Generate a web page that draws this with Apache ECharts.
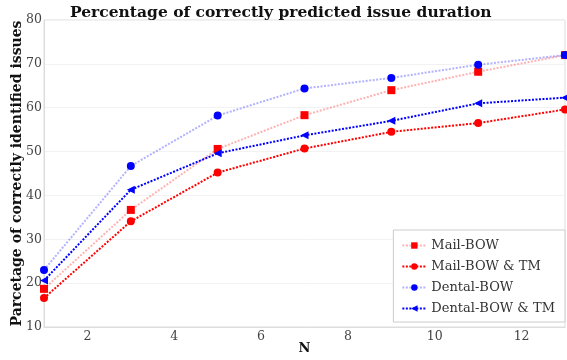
<!DOCTYPE html>
<html>
<head>
<meta charset="utf-8">
<script src="https://cdn.jsdelivr.net/npm/echarts@6/dist/echarts.min.js"></script>
<style>
  html, body { margin: 0; padding: 0; background: #fff; }
  #chart { width: 567px; height: 360px; }
</style>
</head>
<body>
<div id="chart"></div>
<script>
// Number of predictions considered (N)
const nValues = [1, 3, 5, 7, 9, 11, 13];

// Percentage of correctly identified issues per approach
const mailBow = [18.7, 36.7, 50.6, 58.3, 64.0, 68.2, 72.0];
const mailBowTm = [16.6, 34.1, 45.2, 50.7, 54.5, 56.5, 59.6];
const dentalBow = [23.0, 46.7, 58.2, 64.4, 66.8, 69.8, 72.0];
const dentalBowTm = [20.6, 41.3, 49.6, 53.7, 57.0, 61.0, 62.3];

const yTicks = [10, 20, 30, 40, 50, 60, 70, 80];
const xTicks = [2, 4, 6, 8, 10, 12];

const serif = '"DejaVu Serif", "Liberation Serif", serif';

function pairs(ys) {
  return nValues.map((x, i) => [x, ys[i]]);
}

function makeSeries(name, values, lineColor, markColor, symbol) {
  return {
    name: name,
    type: 'line',
    data: pairs(values),
    symbol: symbol,
    symbolSize: 8,
    symbolRotate: symbol === 'triangle' ? 90 : 0,
    showAllSymbol: true,
    clip: true,
    lineStyle: { color: lineColor, width: 2, type: [2, 1.5] },
    itemStyle: { color: markColor },
    emphasis: { disabled: true },
    animation: false
  };
}

const chart = echarts.init(document.getElementById('chart'), null, { renderer: 'canvas' });
chart.setOption({
  backgroundColor: '#fff',
  title: {
    text: 'Percentage of correctly predicted issue duration',
    left: 70,
    top: 5,
    padding: 0,
    textStyle: { fontFamily: serif, fontWeight: 'bold', fontSize: 15.5, color: '#111' }
  },
  grid: {
    left: 44, right: 2, top: 20, bottom: 33,
    outerBoundsMode: 'none',
    containLabel: false,
    show: true, borderColor: '#ddd', borderWidth: 1
  },
  legend: {
    orient: 'vertical',
    right: 2,
    bottom: 38,
    backgroundColor: '#fff',
    borderColor: '#ccc',
    borderWidth: 1,
    borderRadius: 0,
    padding: [8, 10, 6, 8],
    itemGap: 6,
    itemWidth: 24,
    itemHeight: 8,
    textStyle: { fontFamily: serif, fontSize: 13, color: '#333', lineHeight: 15 },
    data: ['Mail-BOW', 'Mail-BOW & TM', 'Dental-BOW', 'Dental-BOW & TM']
  },
  xAxis: {
    type: 'value',
    min: 1,
    max: 13,
    name: 'N',
    nameLocation: 'middle',
    nameGap: 15,
    nameMoveOverlap: false,
    nameTextStyle: { fontFamily: serif, fontWeight: 'bold', fontSize: 13, color: '#111' },
    axisLine: { show: true, lineStyle: { color: '#ddd' } },
    axisTick: { show: false },
    splitLine: { show: false },
    axisLabel: {
      fontFamily: serif, fontSize: 12.5, color: '#444', margin: 3,
      customValues: xTicks
    }
  },
  yAxis: {
    type: 'value',
    min: 10,
    max: 80,
    interval: 10,
    name: 'Parcetage of correctly identified issues',
    nameLocation: 'middle',
    nameGap: 20,
    nameMoveOverlap: false,
    nameTextStyle: { fontFamily: serif, fontWeight: 'bold', fontSize: 14, color: '#111' },
    axisLine: { show: true, lineStyle: { color: '#ddd' } },
    axisTick: { show: false },
    splitLine: { show: true, lineStyle: { color: '#f2f2f2' } },
    axisLabel: {
      fontFamily: serif, fontSize: 12.5, color: '#444', margin: 2,
      formatter: v => (yTicks.indexOf(v) >= 0 ? String(v) : '')
    }
  },
  series: [
    makeSeries('Mail-BOW', mailBow, 'rgba(255,0,0,0.3)', '#f00', 'rect'),
    makeSeries('Mail-BOW & TM', mailBowTm, '#f00', '#f00', 'circle'),
    makeSeries('Dental-BOW', dentalBow, 'rgba(0,0,255,0.3)', '#00f', 'circle'),
    makeSeries('Dental-BOW & TM', dentalBowTm, '#00f', '#00f', 'triangle')
  ]
});
</script>
</body>
</html>
